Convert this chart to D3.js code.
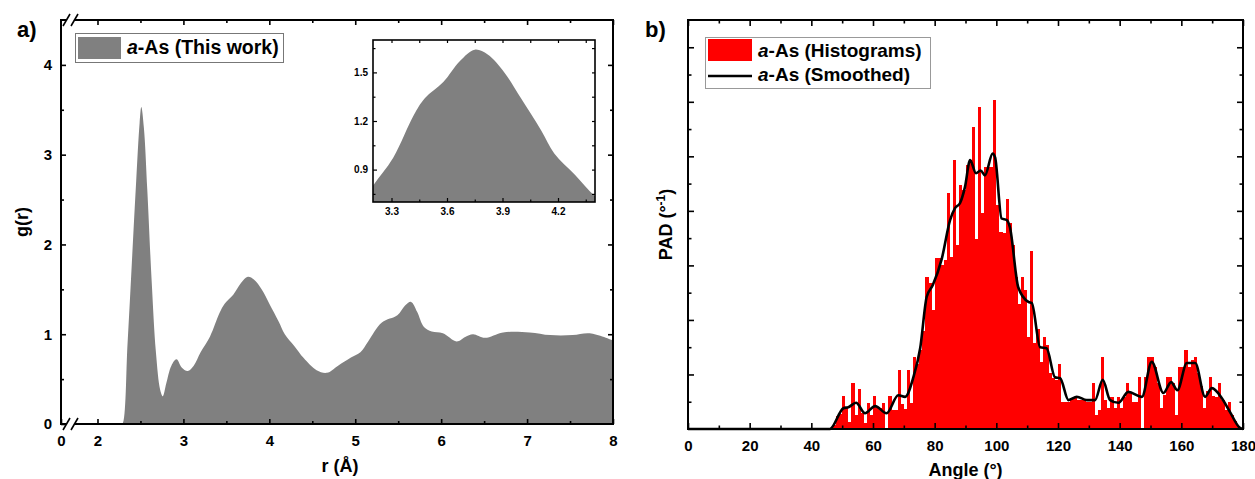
<!DOCTYPE html>
<html><head><meta charset="utf-8">
<script src="https://cdn.jsdelivr.net/npm/d3@7"></script>
<style>
html,body{margin:0;padding:0;background:#fff;}
svg{display:block;font-family:"Liberation Sans",Arial,sans-serif;}
</style></head>
<body>
<svg id="c" width="1255" height="479"></svg>
<script>
// ---------- DATA ----------
// Panel a: radial distribution function g(r)
const rValues = [2.0,2.27,2.29,2.35,2.40,2.45,2.49,2.51,2.54,2.58,2.63,2.68,2.73,2.76,2.80,2.86,2.92,2.98,3.05,3.12,3.20,3.31,3.42,3.48,3.58,3.67,3.75,3.82,3.91,4.00,4.11,4.18,4.29,4.40,4.55,4.67,4.80,4.95,5.06,5.15,5.31,5.49,5.58,5.65,5.72,5.80,5.89,6.02,6.18,6.28,6.37,6.51,6.72,7.03,7.27,7.53,7.73,8.0];
const gValues = [0,0,0,0.9,1.8,2.7,3.35,3.53,3.3,2.6,1.6,0.8,0.38,0.31,0.45,0.65,0.72,0.63,0.59,0.65,0.80,0.975,1.235,1.34,1.44,1.57,1.64,1.61,1.50,1.34,1.14,1.0,0.87,0.735,0.6,0.57,0.65,0.74,0.80,0.92,1.13,1.21,1.32,1.36,1.25,1.08,1.03,1.01,0.92,0.97,1.0,0.96,1.02,1.02,0.99,0.99,1.01,0.93];
const xTicksA = [0,2,3,4,5,6,7,8];
const yTicksA = [0,1,2,3,4];
const insetXTicks = [3.3,3.6,3.9,4.2];
const insetYTicks = [0.9,1.2,1.5];
const legendA = "(This work)";

// Panel b: plane angle distribution (1° bins)
const histFirstBin = 47;
const histValues = [0.8,2.4,2.7,6.0,3.8,1.3,8.5,2.5,7.3,3.0,1.1,4.8,2.5,6.0,3.8,3.8,4.8,0.1,6.0,3.5,3.5,10.9,4.5,3.6,10.8,4.7,13.2,12.0,14.5,18.0,27.8,26.7,21.8,31.3,31.3,30.0,31.0,43.2,31.5,49.4,33.7,44.7,43.9,48.4,49.3,55.3,34.9,59.0,39.7,48.0,48.0,48.0,60.3,41.0,36.1,36.0,42.2,37.7,33.7,27.9,23.0,27.9,25.5,16.9,32.6,15.7,18.3,12.3,16.9,15.4,10.2,9.3,9.0,12.0,5.0,4.9,4.9,5.5,5.9,5.3,5.3,5.3,4.9,4.9,8.4,2.6,3.5,13.2,5.3,3.8,5.9,3.8,5.9,3.8,5.9,8.4,6.8,4.9,4.9,9.5,0.1,9.5,13.2,13.2,11.4,8.4,3.8,6.3,9.5,9.5,8.4,2.6,11.4,11.4,14.5,11.4,12.7,13.2,10.3,7.9,3.8,7.0,9.5,6.1,5.9,8.4,5.3,3.5,4.9,2.6,1.5,0.5,0.0];
const smoothAngles = [0,46,50.4,52,54.5,57.4,60.7,64.4,68.2,70.4,73.1,75.3,77.4,79.4,82.3,85,86.6,88.2,89.8,91.5,93.4,94.9,96.3,98.8,99.6,101.7,103.4,104.4,107.1,110.4,111.5,114.2,116.3,119,120.7,123.4,126.1,129.3,132,134.5,136.9,139.6,142.8,147.2,150.4,154.2,156.7,158.7,161.8,164.5,167.7,169.9,173.1,175.8,179,180];
const smoothValues = [0,0,3.8,4.0,4.8,2.9,4.2,2.9,6.2,5.9,9.5,14.8,24.2,26.4,31.2,38.3,40.5,41.4,44.3,49.3,46.9,47.4,46.5,50.5,49.8,38.6,38.3,37.0,26.0,23.3,23.1,15.0,14.8,9.5,9.3,5.3,5.9,5.3,5.3,9.0,5.3,4.8,6.8,5.9,12.3,6.6,8.6,7.1,12.1,12.1,5.9,7.5,5.7,3.1,0.2,0];
const xTicksB = [0,20,40,60,80,100,120,140,160,180];
const legendB1 = "(Histograms)";
const legendB2 = "(Smoothed)";

// ---------- DRAW ----------
const svg = d3.select("#c");
const defs = svg.append("defs");
const FONT = '"Liberation Sans",Arial,sans-serif';
const grey = "#808080";

// ===== Panel a =====
const A = {l:61, r:613, t:20, b:424};
const xA = d3.scaleLinear().domain([0,1.68,8]).range([A.l,70,A.r]);
const yA = d3.scaleLinear().domain([0,4.5]).range([A.b,A.t]);
const gA = svg.append("g");
defs.append("clipPath").attr("id","clipA").append("rect")
  .attr("x",A.l).attr("y",A.t).attr("width",A.r-A.l).attr("height",A.b-A.t);

const gData = rValues.map((r,i)=>({r, g:gValues[i]}));
gA.append("path").datum(gData).attr("clip-path","url(#clipA)")
  .attr("fill",grey)
  .attr("d", d3.area().x(d=>xA(d.r)).y0(A.b+10).y1(d=>yA(d.g)).curve(d3.curveCatmullRom.alpha(0.5)));

function styleAxis(sel, size){
  sel.select(".domain").remove();
  sel.selectAll(".tick line").attr("stroke","#000").attr("stroke-width",1.6);
  sel.selectAll(".tick text").attr("font-family",FONT).attr("font-weight","bold").attr("font-size",size).attr("fill","#000");
}
// x axes (bottom, top)
const minorXA = [2.5,3.5,4.5,5.5,6.5,7.5];
styleAxis(gA.append("g").attr("transform",`translate(0,${A.b})`)
  .call(d3.axisBottom(xA).tickValues(xTicksA).tickSizeInner(-5).tickSizeOuter(0).tickPadding(11).tickFormat(d3.format("d"))),15);
styleAxis(gA.append("g").attr("transform",`translate(0,${A.b})`)
  .call(d3.axisBottom(xA).tickValues(minorXA).tickSizeInner(-3).tickSizeOuter(0).tickFormat("")),15);
styleAxis(gA.append("g").attr("transform",`translate(0,${A.t})`)
  .call(d3.axisTop(xA).tickValues(xTicksA.filter(v=>v>0)).tickSizeInner(-5).tickSizeOuter(0).tickFormat("")),15);
styleAxis(gA.append("g").attr("transform",`translate(0,${A.t})`)
  .call(d3.axisTop(xA).tickValues(minorXA).tickSizeInner(-3).tickSizeOuter(0).tickFormat("")),15);
// y axes
const minorYA = [0.5,1.5,2.5,3.5];
styleAxis(gA.append("g").attr("transform",`translate(${A.l},0)`)
  .call(d3.axisLeft(yA).tickValues(yTicksA).tickSizeInner(-5).tickSizeOuter(0).tickPadding(9).tickFormat(d3.format("d"))),15);
styleAxis(gA.append("g").attr("transform",`translate(${A.l},0)`)
  .call(d3.axisLeft(yA).tickValues(minorYA).tickSizeInner(-3).tickSizeOuter(0).tickFormat("")),15);
styleAxis(gA.append("g").attr("transform",`translate(${A.r},0)`)
  .call(d3.axisRight(yA).tickValues(yTicksA.filter(v=>v>0)).tickSizeInner(-5).tickSizeOuter(0).tickFormat("")),15);
styleAxis(gA.append("g").attr("transform",`translate(${A.r},0)`)
  .call(d3.axisRight(yA).tickValues(minorYA).tickSizeInner(-3).tickSizeOuter(0).tickFormat("")),15);

// frame with axis break
const fr = gA.append("g").attr("stroke","#000").attr("stroke-width",2).attr("fill","none");
fr.append("line").attr("x1",A.l).attr("x2",A.l).attr("y1",A.t).attr("y2",A.b+1);
fr.append("line").attr("x1",A.r).attr("x2",A.r).attr("y1",A.t-1).attr("y2",A.b+1);
[A.t,A.b].forEach(y=>{
  fr.append("line").attr("x1",A.l-1).attr("x2",66).attr("y1",y).attr("y2",y);
  fr.append("line").attr("x1",74).attr("x2",A.r+1).attr("y1",y).attr("y2",y);
  fr.append("line").attr("x1",63).attr("x2",70).attr("y1",y+6).attr("y2",y-6).attr("stroke-width",1.6);
  fr.append("line").attr("x1",71).attr("x2",78).attr("y1",y+6).attr("y2",y-6).attr("stroke-width",1.6);
});

// labels
gA.append("text").attr("x",17).attr("y",37).attr("font-family",FONT).attr("font-weight","bold").attr("font-size",22).text("a)");
gA.append("text").attr("transform",`translate(28,${(A.t+A.b)/2}) rotate(-90)`).attr("text-anchor","middle")
  .attr("font-family",FONT).attr("font-weight","bold").attr("font-size",18).text("g(r)");
gA.append("text").attr("x",(A.l+A.r)/2+3).attr("y",472).attr("text-anchor","middle")
  .attr("font-family",FONT).attr("font-weight","bold").attr("font-size",18).text("r (Å)");

// legend a
gA.append("rect").attr("x",75.5).attr("y",33.5).attr("width",208).attr("height",29).attr("fill","#fff").attr("stroke","#777").attr("stroke-width",1);
gA.append("rect").attr("x",78).attr("y",37).attr("width",43).attr("height",22).attr("fill",grey);
const tA = gA.append("text").attr("x",127).attr("y",54).attr("font-family",FONT).attr("font-weight","bold").attr("font-size",19.5);
tA.append("tspan").attr("font-style","italic").text("a");
tA.append("tspan").text("-As " + legendA);

// inset
const I = {l:373, r:595, t:40, b:202};
const xI = d3.scaleLinear().domain([3.2,4.4]).range([I.l,I.r]);
const yI = d3.scaleLinear().domain([0.7,1.7]).range([I.b,I.t]);
const gI = svg.append("g");
gI.append("rect").attr("x",I.l).attr("y",I.t).attr("width",I.r-I.l).attr("height",I.b-I.t).attr("fill","#fff");
defs.append("clipPath").attr("id","clipI").append("rect")
  .attr("x",I.l).attr("y",I.t).attr("width",I.r-I.l).attr("height",I.b-I.t);
gI.append("path").datum(gData).attr("clip-path","url(#clipI)")
  .attr("fill",grey)
  .attr("d", d3.area().x(d=>xI(d.r)).y0(I.b+20).y1(d=>yI(d.g)).curve(d3.curveCatmullRom.alpha(0.5)));
const minorXI = [3.45,3.75,4.05,4.35];
const minorYI = [0.75,1.05,1.35,1.65];
function styleI(sel){ styleAxis(sel,10); sel.selectAll(".tick line").attr("stroke-width",1.2); }
styleI(gI.append("g").attr("transform",`translate(0,${I.b})`).call(d3.axisBottom(xI).tickValues(insetXTicks).tickSizeInner(-4).tickSizeOuter(0).tickPadding(6).tickFormat(d3.format(".1f"))));
styleI(gI.append("g").attr("transform",`translate(0,${I.b})`).call(d3.axisBottom(xI).tickValues(minorXI).tickSizeInner(-2.5).tickSizeOuter(0).tickFormat("")));
styleI(gI.append("g").attr("transform",`translate(0,${I.t})`).call(d3.axisTop(xI).tickValues(insetXTicks.concat(minorXI)).tickSizeInner(-3).tickSizeOuter(0).tickFormat("")));
styleI(gI.append("g").attr("transform",`translate(${I.l},0)`).call(d3.axisLeft(yI).tickValues(insetYTicks).tickSizeInner(-4).tickSizeOuter(0).tickPadding(5).tickFormat(d3.format(".1f"))));
styleI(gI.append("g").attr("transform",`translate(${I.l},0)`).call(d3.axisLeft(yI).tickValues(minorYI).tickSizeInner(-2.5).tickSizeOuter(0).tickFormat("")));
styleI(gI.append("g").attr("transform",`translate(${I.r},0)`).call(d3.axisRight(yI).tickValues(insetYTicks.concat(minorYI)).tickSizeInner(-3).tickSizeOuter(0).tickFormat("")));
gI.append("rect").attr("x",I.l).attr("y",I.t).attr("width",I.r-I.l).attr("height",I.b-I.t).attr("fill","none").attr("stroke","#000").attr("stroke-width",1.6);

// ===== Panel b =====
const B = {l:688, r:1243, t:20, b:429};
const xB = d3.scaleLinear().domain([0,180]).range([B.l,B.r]);
const yB = d3.scaleLinear().domain([0,75]).range([B.b,B.t]);
const gB = svg.append("g");

const bins = histValues.map((v,i)=>({a:histFirstBin+i, v}));
gB.append("g").selectAll("rect").data(bins).join("rect")
  .attr("x",d=>xB(d.a)).attr("width",d=>xB(d.a+1)-xB(d.a))
  .attr("y",d=>yB(d.v)).attr("height",d=>yB(0)-yB(d.v))
  .attr("fill","#ff0000").attr("shape-rendering","crispEdges");

const sData = smoothAngles.map((a,i)=>({a, v:smoothValues[i]}));
gB.append("path").datum(sData).attr("fill","none").attr("stroke","#000").attr("stroke-width",2.6).attr("stroke-linejoin","round")
  .attr("d", d3.line().x(d=>xB(d.a)).y(d=>yB(d.v)).curve(d3.curveMonotoneX));

const minorXB = [10,30,50,70,90,110,130,150,170];
const majorYB = [10,20,30,40,50,60,70];
const minorYB = [5,15,25,35,45,55,65];
styleAxis(gB.append("g").attr("transform",`translate(0,${B.b})`).call(d3.axisBottom(xB).tickValues(xTicksB).tickSizeInner(-6).tickSizeOuter(0).tickPadding(11).tickFormat(d3.format("d"))),15);
styleAxis(gB.append("g").attr("transform",`translate(0,${B.b})`).call(d3.axisBottom(xB).tickValues(minorXB).tickSizeInner(-3.5).tickSizeOuter(0).tickFormat("")),15);
styleAxis(gB.append("g").attr("transform",`translate(0,${B.t})`).call(d3.axisTop(xB).tickValues(xTicksB).tickSizeInner(-6).tickSizeOuter(0).tickFormat("")),15);
styleAxis(gB.append("g").attr("transform",`translate(0,${B.t})`).call(d3.axisTop(xB).tickValues(minorXB).tickSizeInner(-3.5).tickSizeOuter(0).tickFormat("")),15);
styleAxis(gB.append("g").attr("transform",`translate(${B.l},0)`).call(d3.axisLeft(yB).tickValues(majorYB).tickSizeInner(-6).tickSizeOuter(0).tickFormat("")),15);
styleAxis(gB.append("g").attr("transform",`translate(${B.l},0)`).call(d3.axisLeft(yB).tickValues(minorYB).tickSizeInner(-3.5).tickSizeOuter(0).tickFormat("")),15);
styleAxis(gB.append("g").attr("transform",`translate(${B.r},0)`).call(d3.axisRight(yB).tickValues(majorYB).tickSizeInner(-6).tickSizeOuter(0).tickFormat("")),15);
styleAxis(gB.append("g").attr("transform",`translate(${B.r},0)`).call(d3.axisRight(yB).tickValues(minorYB).tickSizeInner(-3.5).tickSizeOuter(0).tickFormat("")),15);
gB.append("rect").attr("x",B.l).attr("y",B.t).attr("width",B.r-B.l).attr("height",B.b-B.t).attr("fill","none").attr("stroke","#000").attr("stroke-width",2);

gB.append("text").attr("x",645).attr("y",37).attr("font-family",FONT).attr("font-weight","bold").attr("font-size",22).text("b)");
const padT = gB.append("text").attr("transform",`translate(672,${(B.t+B.b)/2}) rotate(-90)`).attr("text-anchor","middle")
  .attr("font-family",FONT).attr("font-weight","bold").attr("font-size",18);
padT.append("tspan").text("PAD (°");
padT.append("tspan").attr("font-size",12).attr("dy",-7).text("-1");
padT.append("tspan").attr("dy",7).text(")");
gB.append("text").attr("x",(B.l+B.r)/2).attr("y",476).attr("text-anchor","middle")
  .attr("font-family",FONT).attr("font-weight","bold").attr("font-size",18).text("Angle (°)");

// legend b
gB.append("rect").attr("x",705.5).attr("y",37.5).attr("width",225).attr("height",51).attr("fill","#fff").attr("stroke","#999").attr("stroke-width",1);
gB.append("rect").attr("x",708).attr("y",39).attr("width",44).attr("height",22).attr("fill","#ff0000");
gB.append("line").attr("x1",708).attr("x2",752).attr("y1",76).attr("y2",76).attr("stroke","#000").attr("stroke-width",2.6);
[[legendB1,57],[legendB2,81]].forEach(([s,y])=>{
  const t = gB.append("text").attr("x",758).attr("y",y).attr("font-family",FONT).attr("font-weight","bold").attr("font-size",19);
  t.append("tspan").attr("font-style","italic").text("a");
  t.append("tspan").text("-As " + s);
});
</script>
</body></html>
